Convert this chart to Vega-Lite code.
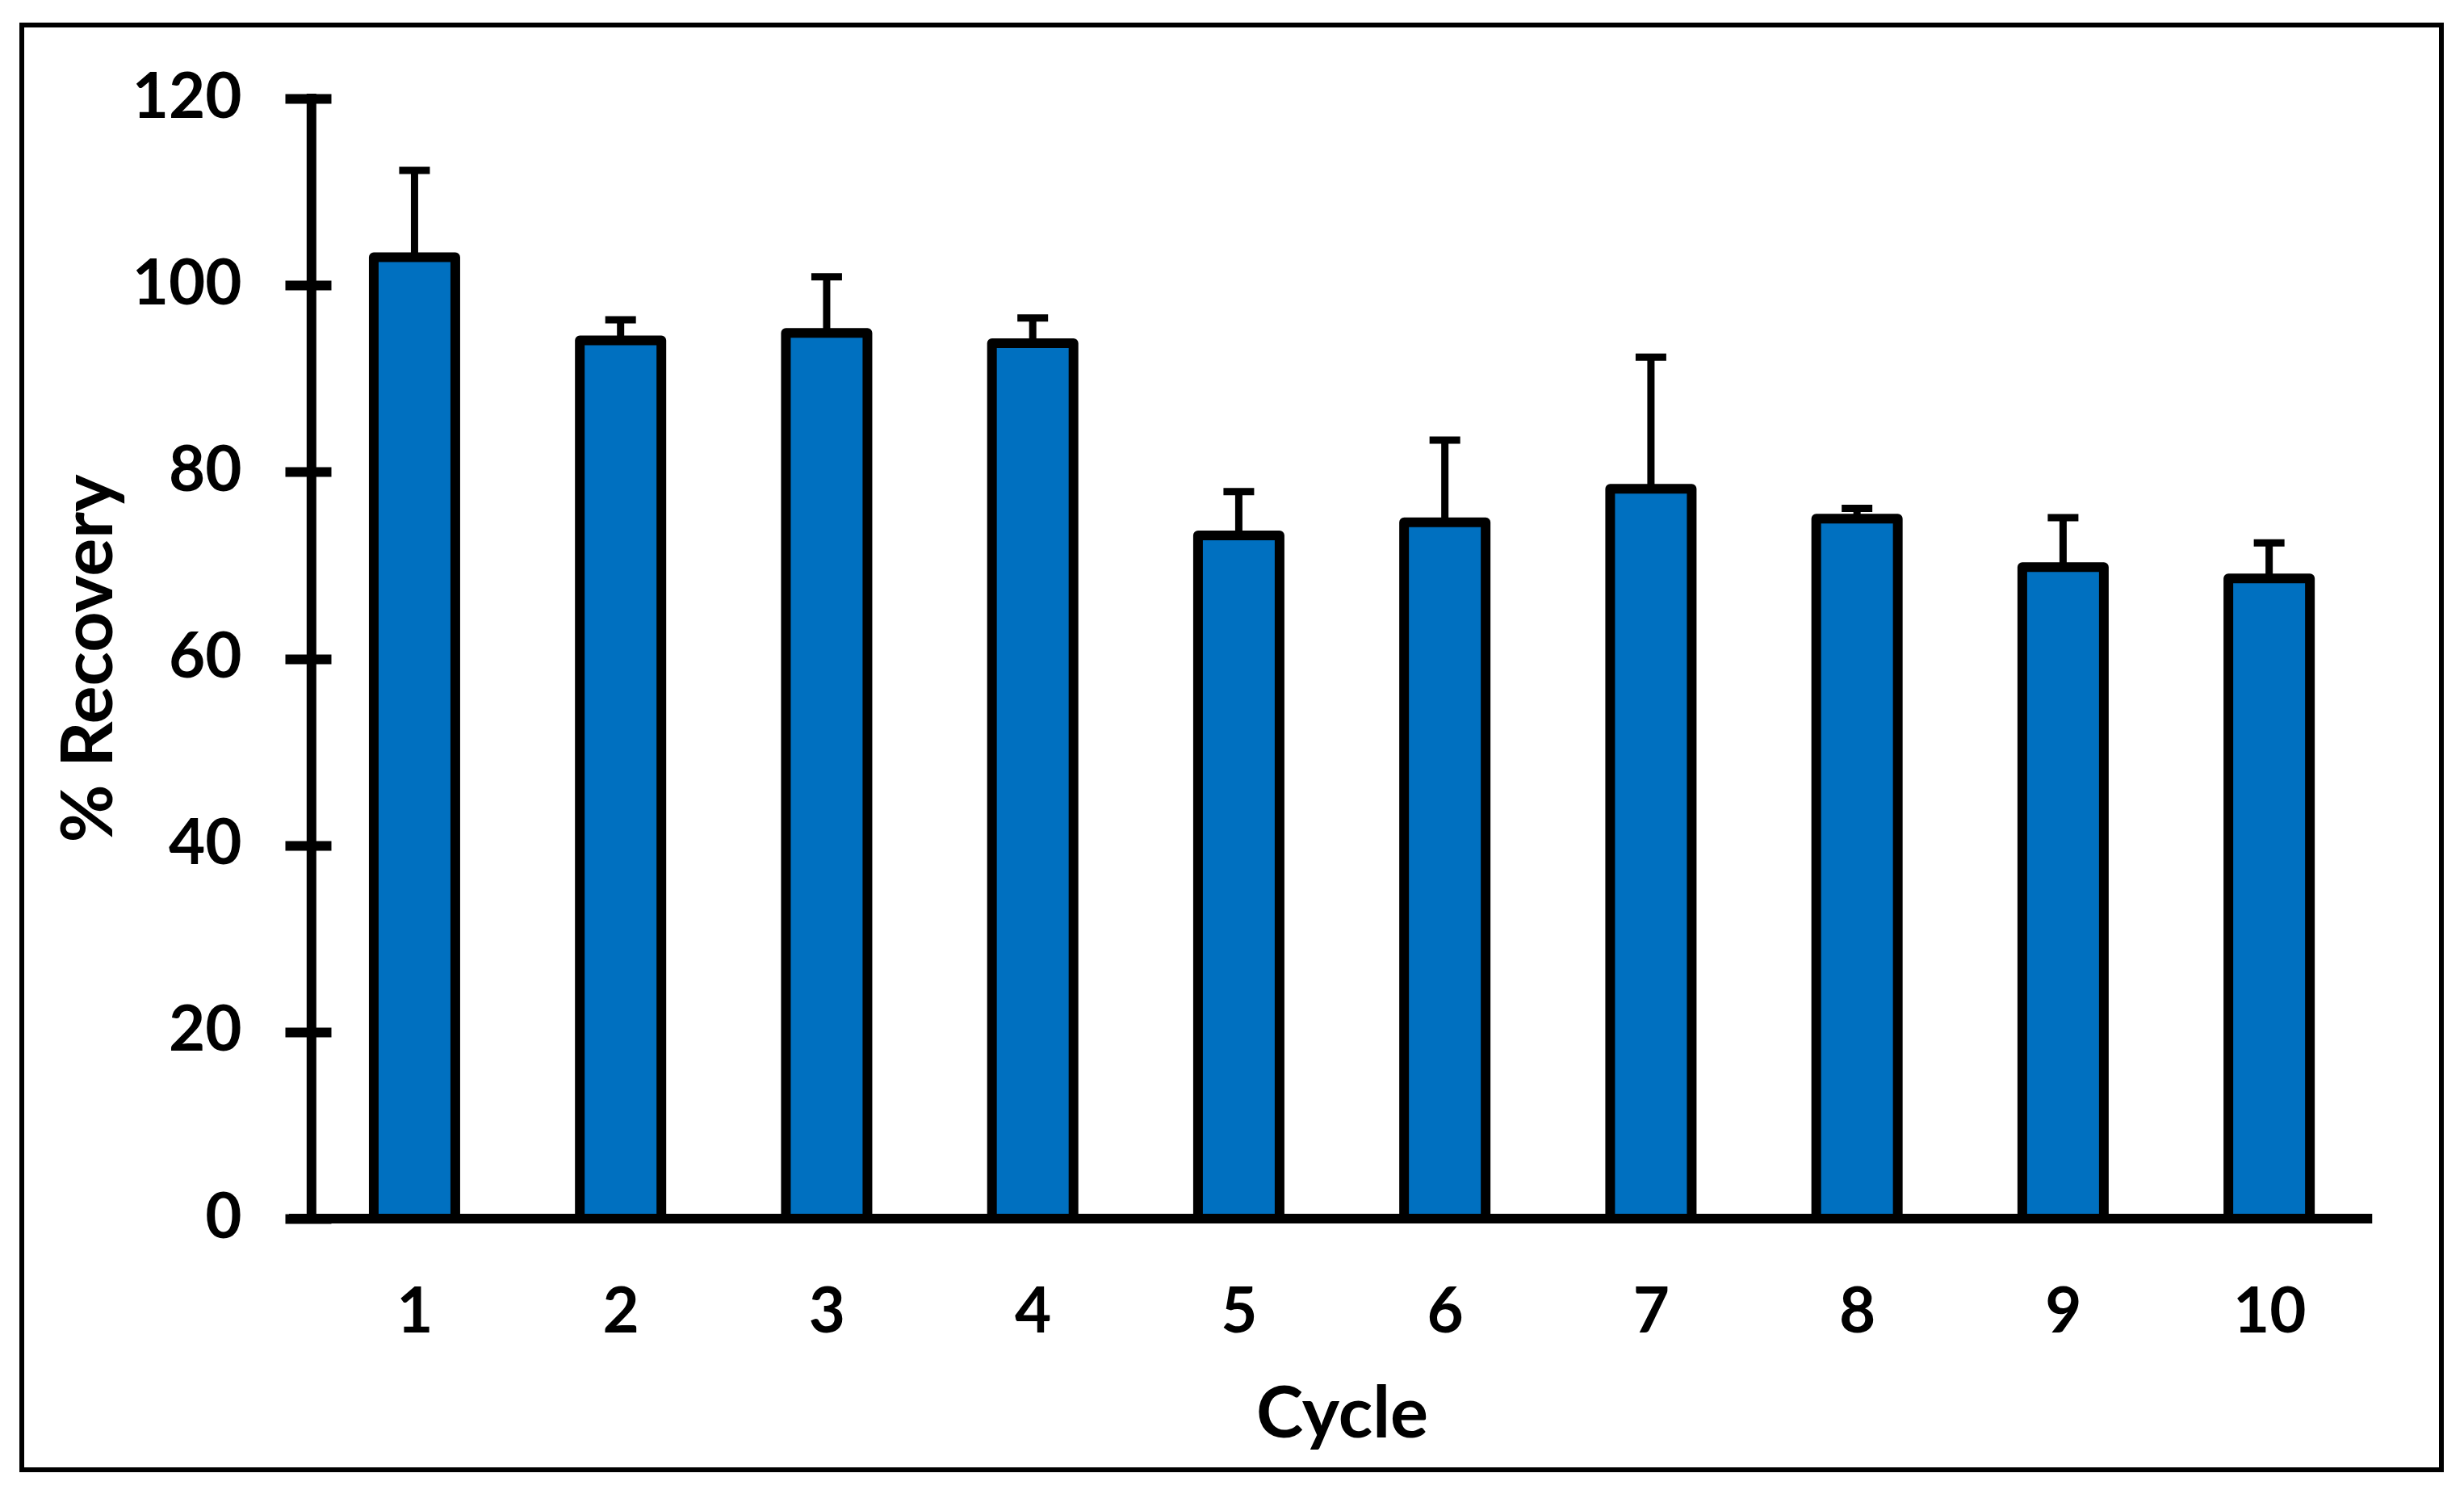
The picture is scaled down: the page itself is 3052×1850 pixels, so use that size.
{
  "$schema": "https://vega.github.io/schema/vega-lite/v6.json",
  "width": 2997,
  "height": 1789,
  "autosize": {"type": "none"},
  "padding": {"left": 27, "top": 31, "right": 28, "bottom": 30},
  "background": "white",
  "config": {
    "view": {"stroke": "black", "strokeWidth": 6},
    "axis": {
      "grid": false,
      "labelFont": "Lato",
      "labelFontWeight": "bold",
      "labelFontSize": 78,
      "labelColor": "black",
      "titleFont": "Lato",
      "titleFontWeight": "bold",
      "titleFontSize": 88,
      "titleColor": "black"
    }
  },
  "data": {
    "values": [
      {"cycle": 1, "recovery": 103.0, "upper": 112.3},
      {"cycle": 2, "recovery": 94.1, "upper": 96.3},
      {"cycle": 3, "recovery": 94.9, "upper": 100.9},
      {"cycle": 4, "recovery": 93.8, "upper": 96.5},
      {"cycle": 5, "recovery": 73.2, "upper": 77.9},
      {"cycle": 6, "recovery": 74.6, "upper": 83.4},
      {"cycle": 7, "recovery": 78.2, "upper": 92.3},
      {"cycle": 8, "recovery": 75.0, "upper": 76.1},
      {"cycle": 9, "recovery": 69.8, "upper": 75.1},
      {"cycle": 10, "recovery": 68.6, "upper": 72.4}
    ]
  },
  "layer": [
    {
      "mark": {"type": "rule", "strokeWidth": 9, "color": "black"},
      "encoding": {
        "x": {
          "field": "cycle", "type": "quantitative", "title": "Cycle",
          "scale": {"domain": [-0.8862, 10.8163], "nice": false, "zero": false},
          "axis": {"values": [1,2,3,4,5,6,7,8,9,10], "format": "d", "domain": false, "ticks": false, "offset": -311, "labelPadding": 78, "titlePadding": 44, "titleX": 1635, "labelFlush": false, "labelOverlap": false}
        },
        "y": {
          "field": "recovery", "type": "quantitative", "title": "% Recovery",
          "scale": {"domain": [-26.908, 127.88], "nice": false, "zero": false},
          "axis": {"values": [0,20,40,60,80,100,120], "domain": false, "ticks": true, "tickSize": 57, "tickWidth": 12, "tickColor": "black", "offset": -383, "labelPadding": 54, "titlePadding": 54, "titleY": 784}
        },
        "y2": {"field": "upper"}
      }
    },
    {
      "mark": {"type": "tick", "orient": "horizontal", "size": 38, "thickness": 9, "color": "black", "opacity": 1},
      "encoding": {
        "x": {"field": "cycle", "type": "quantitative", "title": "Cycle"},
        "y": {"field": "upper", "type": "quantitative", "title": "% Recovery"}
      }
    },
    {
      "mark": {"type": "bar", "fill": "#0070C0", "stroke": "black", "strokeWidth": 12, "width": 101, "strokeJoin": "round", "opacity": 1},
      "encoding": {
        "x": {"field": "cycle", "type": "quantitative", "title": "Cycle"},
        "y": {"field": "recovery", "type": "quantitative", "title": "% Recovery"},
        "y2": {"datum": 0}
      }
    },
    {
      "data": {"values": [{}]},
      "mark": {"type": "rule", "strokeWidth": 12, "color": "black", "strokeCap": "square"},
      "encoding": {
        "x": {"datum": 0.5, "type": "quantitative", "title": "Cycle"},
        "y": {"datum": 0, "type": "quantitative", "title": "% Recovery"},
        "y2": {"datum": 120}
      }
    },
    {
      "data": {"values": [{}]},
      "mark": {"type": "rule", "strokeWidth": 12, "color": "black"},
      "encoding": {
        "x": {"datum": 0.3907, "type": "quantitative", "title": "Cycle"},
        "x2": {"datum": 10.5},
        "y": {"datum": 0, "type": "quantitative", "title": "% Recovery"}
      }
    }
  ]
}
